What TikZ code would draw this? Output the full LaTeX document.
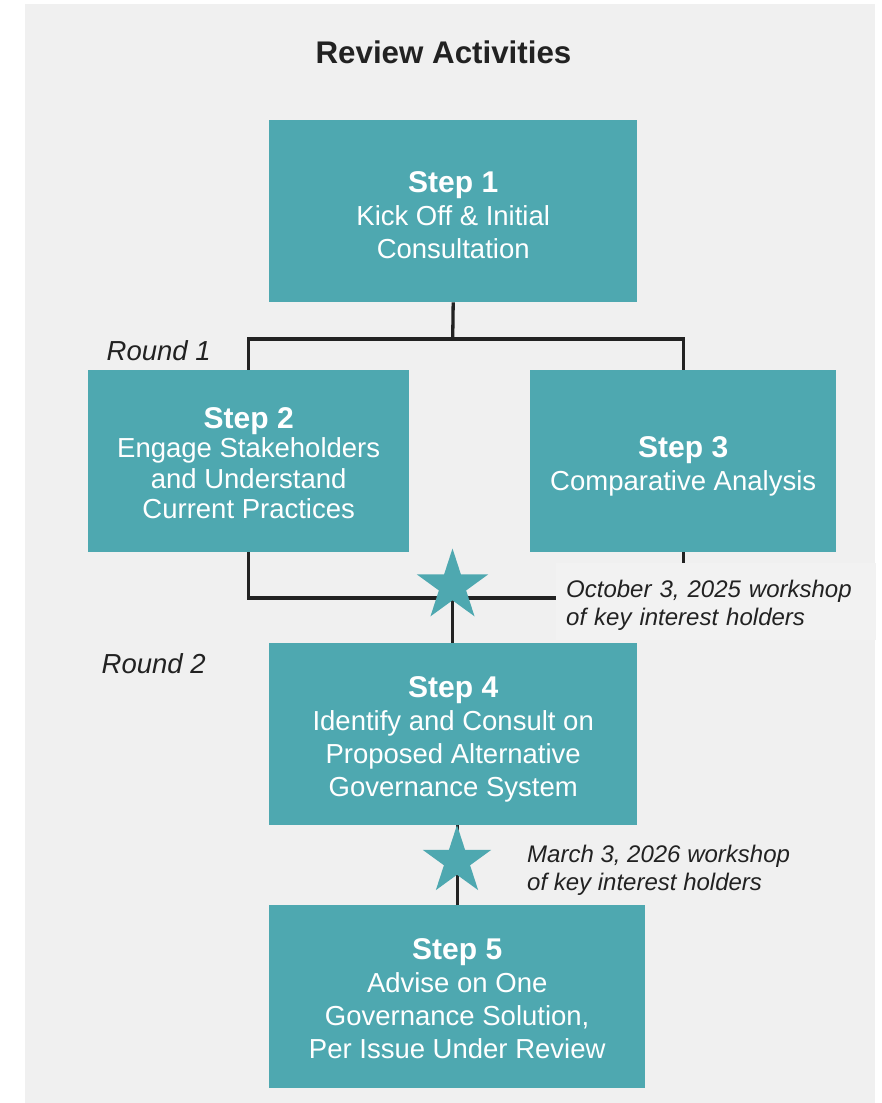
\documentclass[tikz,border=0pt]{standalone}
\usepackage{fontspec}
\setmainfont{Liberation Sans}
\usetikzlibrary{shapes.geometric}

\definecolor{boxteal}{HTML}{4EA8B0}
\definecolor{panelgray}{HTML}{F0F0F0}
\definecolor{notefill}{HTML}{F2F2F2}
\definecolor{inkgray}{HTML}{222222}

\tikzset{
  stepbox/.style={fill=boxteal, text=white, align=center, inner sep=0pt,
    anchor=north west, font=\fontsize{27.5}{33}\selectfont},
  conn/.style={draw=inkgray, line width=3.3pt},
  marker/.style={star, star points=5, star point ratio=2.618, fill=boxteal,
    inner sep=0pt},
  note/.style={text=inkgray, font=\itshape\fontsize{24}{28}\selectfont, align=left},
  roundlabel/.style={text=inkgray, font=\itshape\fontsize{27.5}{33}\selectfont,
    anchor=base west, inner sep=0pt},
}
% bold heading line of a step box; the optional strut height nudges the text block down
\newcommand{\stephead}[3][0pt]{\rule{0pt}{#2pt}{\bfseries\fontsize{30}{36}\selectfont #3}\\[#1]}

\begin{document}
\begin{tikzpicture}[x=1pt,y=-1pt]
  % page and panel
  \fill[white] (0,0) rectangle (881,1103);
  \fill[panelgray] (25,4) rectangle (875,1103);
  \useasboundingbox (0,0) rectangle (881,1103);

  % title
  \node[font=\bfseries\fontsize{31.3}{36}\selectfont, text=inkgray, anchor=base,
    inner sep=0pt] (title) at (443.5,63.3) {Review Activities};

  % steps
  \node[stepbox, minimum width=368pt, minimum height=182pt] (s1) at (269,120)
    {\stephead{28.2}{Step 1}Kick Off \& Initial\\Consultation};
  \node[stepbox, minimum width=321pt, minimum height=182pt,
    font=\fontsize{27.5}{30.5}\selectfont] (s2) at (88,370)
    {\stephead[-1.5pt]{25.2}{Step 2}Engage Stakeholders\\and Understand\\Current Practices};
  \node[stepbox, minimum width=306pt, minimum height=182pt] (s3) at (530,370)
    {\stephead{32.2}{Step 3}Comparative Analysis};
  \node[stepbox, minimum width=368pt, minimum height=182pt] (s4) at (269,643)
    {\stephead{32.2}{Step 4}Identify and Consult on\\Proposed Alternative\\Governance System};
  \node[stepbox, minimum width=376pt, minimum height=183pt] (s5) at (269,905)
    {\stephead{25.2}{Step 5}Advise on One\\Governance Solution,\\Per Issue Under Review};

  % connectors
  \coordinate (split) at (452.7,339);
  \coordinate (join) at (452.5,598);
  \draw[conn] (s1.south) -- (split);
  \draw[conn] (split) -| (s2.north);
  \draw[conn] (split) -| (s3.north);
  \draw[conn] (s2.south) |- (join);
  \draw[conn] (s3.south) |- (join);
  \draw[conn] (join) -- (join |- s4.north);
  \draw[conn] (s5.north) -- (s5.north |- s4.south);

  % workshop markers
  \node[marker, minimum size=75pt] (k1) at (452.5,586) {};
  \node[marker, minimum size=72pt] (k2) at (457,861) {};

  % notes
  \node[note, fill=notefill, anchor=north west, minimum width=320pt,
    minimum height=77pt, text width=300pt, inner xsep=10pt, inner ysep=0pt]
    (w1) at (556,563) {\rule{0pt}{25.5pt}October 3, 2025 workshop\\of key interest holders};
  \node[note, anchor=west, inner sep=0pt] (w2) at (527,870)
    {March 3, 2026 workshop\\of key interest holders};

  \node[roundlabel] (r1) at (106.5,360.5) {Round 1};
  \node[roundlabel] (r2) at (101.5,673) {Round 2};
\end{tikzpicture}
\end{document}
